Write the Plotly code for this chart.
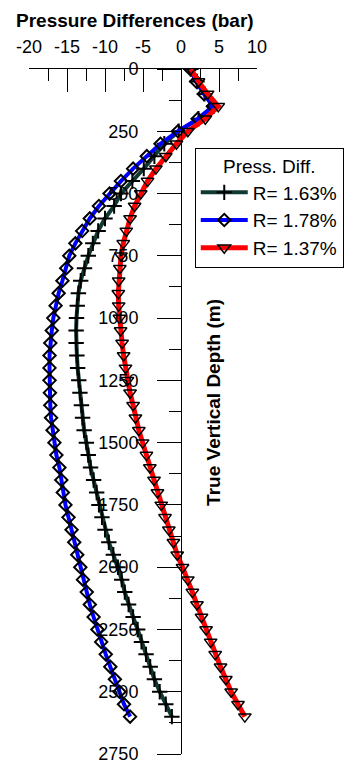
import plotly.graph_objects as go

depth = [0, 50, 100, 150, 200, 250, 300, 350, 400, 450,
         500, 550, 600, 650, 700, 750, 800, 850, 900, 950,
         1000, 1050, 1100, 1150, 1200, 1250, 1300, 1350, 1400, 1450,
         1500, 1550, 1600, 1650, 1700, 1750, 1800, 1850, 1900, 1950,
         2000, 2050, 2100, 2150, 2200, 2250, 2300, 2350, 2400, 2450,
         2500, 2550, 2600]

diff_163 = [1.3, 2.1, 3.1, 4.3, 2.3, -0.3, -2.2, -3.5, -4.9, -6.4,
            -7.9, -8.8, -10.0, -10.9, -11.6, -12.2, -12.7, -13.2, -13.5, -13.65,
            -13.75, -13.8, -13.8, -13.7, -13.6, -13.45, -13.3, -13.1, -12.95, -12.75,
            -12.45, -12.2, -11.9, -11.5, -11.1, -10.8, -10.4, -10.0, -9.5, -8.9,
            -8.3, -7.8, -7.4, -6.9, -6.3, -5.7, -5.2, -4.6, -4.05, -3.5,
            -2.8, -2.0, -1.2]

diff_178 = [1.2, 2.0, 3.0, 4.2, 2.2, -0.4, -2.7, -4.5, -6.3, -7.9,
            -9.4, -10.8, -12.0, -13.0, -13.9, -14.7, -15.1, -15.6, -16.1, -16.5,
            -16.8, -17.0, -17.2, -17.3, -17.3, -17.3, -17.25, -17.2, -17.1, -16.9,
            -16.65, -16.4, -16.0, -15.75, -15.55, -15.2, -14.8, -14.4, -14.05, -13.65,
            -13.25, -12.9, -12.4, -12.0, -11.5, -11.0, -10.5, -9.9, -9.3, -8.7,
            -8.1, -7.5, -6.7]

diff_137 = [1.3, 2.3, 3.5, 4.9, 3.2, 0.9, -0.6, -2.0, -3.3, -4.4,
            -5.3, -6.1, -6.7, -7.2, -7.6, -7.9, -8.05, -8.2, -8.25, -8.2,
            -8.1, -7.95, -7.75, -7.55, -7.3, -7.05, -6.7, -6.3, -6.0, -5.55,
            -5.05, -4.55, -4.1, -3.55, -3.1, -2.6, -2.1, -1.6, -1.0, -0.5,
            0.2, 0.9, 1.5, 2.1, 2.7, 3.3, 3.9, 4.5, 5.2, 5.9,
            6.6, 7.5, 8.4]

series_names = ["R= 1.63%", "R= 1.78%", "R= 1.37%"]

x_tickvals = [-20, -15, -10, -5, 0, 5, 10]
x_ticktext = ["-20", "-15", "-10", "-5", "0", "5", "10"]
x_minorvals = [-20, -17.5, -15, -12.5, -10, -7.5, -5, -2.5, 0, 2.5, 5, 7.5, 10]
y_tickvals = [0, 250, 500, 750, 1000, 1250, 1500, 1750, 2000, 2250, 2500, 2750]
y_ticktext = ["0", "250", "500", "750", "1000", "1250", "1500", "1750", "2000", "2250", "2500", "2750"]
y_minorvals = [125, 375, 625, 875, 1125, 1375, 1625, 1875, 2125, 2375, 2625]

FONT = "Liberation Sans, Arial, sans-serif"

fig = go.Figure()
fig.add_trace(go.Scatter(
    x=diff_163, y=depth, name=series_names[0], mode="lines+markers",
    line=dict(color="#0f3a34", width=4),
    marker=dict(symbol="cross-thin", size=11, color="black",
                line=dict(color="black", width=2)),
))
fig.add_trace(go.Scatter(
    x=diff_178, y=depth, name=series_names[1], mode="lines+markers",
    line=dict(color="#0000ff", width=4),
    marker=dict(symbol="diamond-open", size=9.5, color="black",
                line=dict(color="black", width=2)),
))
fig.add_trace(go.Scatter(
    x=diff_137, y=depth, name=series_names[2], mode="lines+markers",
    line=dict(color="#ff0000", width=5),
    marker=dict(symbol="triangle-down-open", size=11, color="black",
                line=dict(color="black", width=1.5)),
))

fig.update_layout(
    width=345, height=757,
    margin=dict(l=21, r=96, t=61, b=11, autoexpand=False),
    paper_bgcolor="white", plot_bgcolor="white",
    font=dict(family=FONT, size=18, color="black"),
    showlegend=True,
    legend=dict(
        x=0.727, y=0.885, xanchor="left", yanchor="top",
        orientation="v", itemwidth=47,
        bgcolor="white", bordercolor="black", borderwidth=1,
        font=dict(family=FONT, size=19, color="black"),
        title=dict(text="Press. Diff.", side="top center",
                   font=dict(family=FONT, size=19, color="black")),
    ),
    xaxis=dict(
        range=[-20, 10], side="top", anchor="y",
        showline=True, linecolor="black", linewidth=1,
        ticks="inside", ticklen=23, tickcolor="black", tickwidth=1,
        tickmode="array", tickvals=x_tickvals, ticktext=x_ticktext,
        minor=dict(tickmode="array", tickvals=x_minorvals, ticks="inside",
                   ticklen=12, tickcolor="black", showgrid=False),
        showgrid=False, zeroline=False,
        tickfont=dict(family=FONT, size=18, color="black"),
        ticklabelstandoff=8,
    ),
    yaxis=dict(
        range=[2750, 0], anchor="free", position=2 / 3, side="left",
        showline=True, linecolor="black", linewidth=1,
        ticks="outside", ticklen=24, tickcolor="black", tickwidth=1,
        tickmode="array", tickvals=y_tickvals, ticktext=y_ticktext,
        minor=dict(tickmode="array", tickvals=y_minorvals, ticks="outside",
                   ticklen=12, tickcolor="black", showgrid=False),
        showgrid=False, zeroline=False,
        tickfont=dict(family=FONT, size=18, color="black"),
        ticklabelstandoff=15,
    ),
    annotations=[
        dict(text="<b>Pressure Differences (bar)</b>", xref="paper", yref="paper",
             x=-0.0658, y=1.0715, xanchor="left", yanchor="middle", showarrow=False,
             font=dict(family=FONT, size=19, color="black")),
        dict(text="<b>True Vertical Depth (m)</b>", xref="paper", yref="paper",
             x=0.811, y=0.5139, xanchor="center", yanchor="middle", showarrow=False,
             textangle=-90, font=dict(family=FONT, size=19, color="black")),
    ],
)

fig.write_html("out.html")
